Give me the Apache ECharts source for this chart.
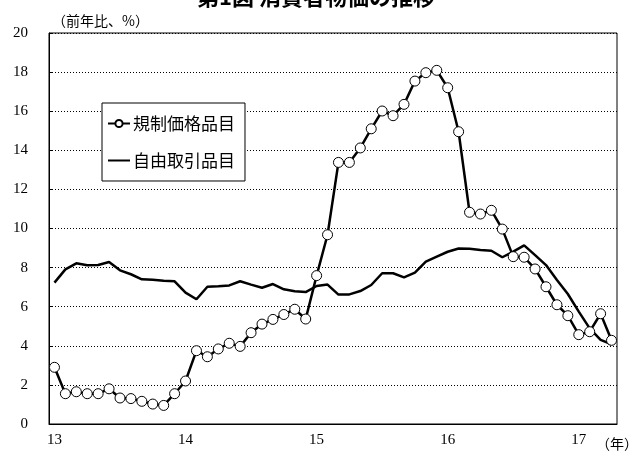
<!DOCTYPE html>
<html>
<head>
<meta charset="utf-8">
<script src="https://cdn.jsdelivr.net/npm/echarts@6/dist/echarts.min.js"></script>
<style>
  html, body { margin: 0; padding: 0; background: #fff; }
  #chart { width: 632px; height: 456px; }
</style>
</head>
<body>
<div id="chart"></div>
<script>
// 年（2013年1月〜2017年4月、月次）
var years = ['13', '14', '15', '16', '17'];
var monthsLastYear = 4;
var yTicks = [0, 2, 4, 6, 8, 10, 12, 14, 16, 18, 20];

// 規制価格品目（前年比、%）
var kisei = [
  2.9, 1.55, 1.65, 1.55, 1.55, 1.8, 1.33, 1.3, 1.16, 1.02, 0.95, 1.55,
  2.2, 3.75, 3.44, 3.84, 4.13, 3.97, 4.67, 5.11, 5.35, 5.6, 5.87, 5.37,
  7.59, 9.68, 13.38, 13.38, 14.12, 15.1, 16.01, 15.77, 16.35, 17.54, 17.97, 18.09,
  17.2, 14.95, 10.83, 10.74, 10.93, 9.97, 8.56, 8.53, 7.93, 7.02, 6.1, 5.54,
  4.57, 4.72, 5.64, 4.28
];
// 自由取引品目（前年比、%）
var jiyu = [
  7.23, 7.91, 8.22, 8.12, 8.13, 8.29, 7.86, 7.66, 7.4, 7.38, 7.33, 7.3,
  6.72, 6.38, 7.02, 7.05, 7.09, 7.3, 7.13, 6.97, 7.16, 6.89, 6.79, 6.75,
  7.06, 7.13, 6.62, 6.63, 6.8, 7.11, 7.71, 7.71, 7.5, 7.74, 8.3, 8.56,
  8.81, 8.98, 8.97, 8.9, 8.86, 8.53, 8.82, 9.14, 8.64, 8.13, 7.37, 6.65,
  5.75, 4.89, 4.3, 4.08
];

var categories = [];
years.forEach(function (y, i) {
  var n = (i === years.length - 1) ? monthsLastYear : 12;
  for (var m = 1; m <= n; m++) {
    categories.push(y + '.' + m);
  }
});

var chart = echarts.init(document.getElementById('chart'));
var serif = '"Liberation Serif", "DejaVu Serif", serif';
var cjk = '"Noto Sans CJK JP", sans-serif';

var option = {
  backgroundColor: '#fff',
  animation: false,
  title: {
    text: '第1図 消費者物価の推移',
    left: 'center',
    top: -19,
    textStyle: { fontFamily: cjk, fontSize: 22, fontWeight: 'bold', color: '#000' }
  },
  grid: {
    left: 49, right: 15, top: 33, bottom: 32,
    show: true, borderColor: '#000', borderWidth: 1
  },
  legend: {
    orient: 'vertical',
    left: 102,
    top: 103,
    width: 146,
    padding: [12, 10, 12, 5],
    itemGap: 20,
    itemWidth: 22,
    itemHeight: 9,
    backgroundColor: '#fff',
    borderColor: '#000',
    borderWidth: 1,
    textStyle: { fontFamily: cjk, fontSize: 17, color: '#000', padding: [0, 0, 0, -2] },
    data: [
      { name: '規制価格品目' },
      { name: '自由取引品目', itemStyle: { opacity: 0 } }
    ]
  },
  xAxis: {
    type: 'category',
    data: categories,
    boundaryGap: true,
    axisLine: { lineStyle: { color: '#000', width: 1 } },
    axisTick: {
      inside: true,
      length: 6,
      lineStyle: { color: '#000' },
      interval: function (idx) { return idx % 12 === 0; }
    },
    axisLabel: {
      interval: function (idx) { return idx % 12 === 0; },
      formatter: function (v) { return v.split('.')[0]; },
      margin: 9,
      fontFamily: serif,
      fontSize: 15,
      color: '#000'
    },
    splitLine: { show: false }
  },
  yAxis: {
    type: 'value',
    min: yTicks[0],
    max: yTicks[yTicks.length - 1],
    interval: 2,
    axisLine: { show: true, lineStyle: { color: '#000', width: 1 } },
    axisTick: { show: true, inside: true, length: 4, lineStyle: { color: '#000' } },
    axisLabel: { margin: 21, fontFamily: serif, fontSize: 15, color: '#000' },
    splitLine: { show: true, lineStyle: { color: '#000', type: [1, 2], width: 1 } }
  },
  graphic: [
    {
      type: 'text', left: 52, top: 14,
      style: { text: '（前年比、%）', font: '14px ' + cjk, fill: '#000' }
    },
    {
      type: 'text', left: 596, top: 437,
      style: { text: '（年）', font: '14px ' + cjk, fill: '#000' }
    }
  ],
  series: [
    {
      name: '規制価格品目',
      type: 'line',
      data: kisei,
      symbol: 'circle',
      symbolSize: 10,
      showSymbol: true,
      showAllSymbol: true,
      itemStyle: { color: '#fff', borderColor: '#000', borderWidth: 1 },
      lineStyle: { color: '#000', width: 2.5 },
      z: 3
    },
    {
      name: '自由取引品目',
      type: 'line',
      data: jiyu,
      symbol: 'circle',
      showSymbol: false,
      itemStyle: { color: '#000' },
      lineStyle: { color: '#000', width: 2.5 },
      z: 2
    }
  ]
};
chart.setOption(option);
</script>
</body>
</html>
